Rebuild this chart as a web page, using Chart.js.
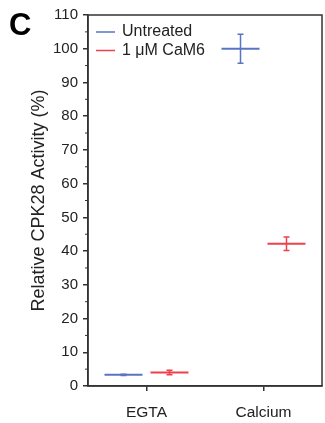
<!DOCTYPE html>
<html>
<head>
<meta charset="utf-8">
<script src="https://cdn.jsdelivr.net/npm/chart.js@4"></script>
<style>
  html, body { margin: 0; padding: 0; background: #fff; }
  #wrap { width: 325px; height: 423px; }
</style>
</head>
<body>
<div id="wrap"><canvas id="cpkChart" width="325" height="423"></canvas></div>
<script>
const categories = ['EGTA', 'Calcium'];
const seriesNames = ['Untreated', '1 \u03BCM CaM6'];
const untreated = [3.3, 100];
const untreatedErr = [0.2, 4.3];
const cam6 = [4.0, 42.2];
const cam6Err = [0.7, 2.0];
const yTicks = [0, 10, 20, 30, 40, 50, 60, 70, 80, 90, 100, 110];

const blue = '#5874c2';
const red = '#ef3f4c';
const axisColor = '#333';

// draws the mean line + error bars, the frame, minor ticks, legend and panel letter
const marksPlugin = {
    id: 'marks',
    afterDatasetsDraw(chart) {
        const ctx = chart.ctx;
        const y = chart.scales.y;
        const area = chart.chartArea;
        ctx.save();

        chart.data.datasets.forEach((ds, i) => {
            const meta = chart.getDatasetMeta(i);
            meta.data.forEach((bar, j) => {
                const v = ds.data[j];
                const e = ds.errors[j];
                const half = bar.width / 2;
                ctx.strokeStyle = ds.lineColor;
                ctx.lineWidth = 2;
                ctx.beginPath();
                ctx.moveTo(bar.x - half, bar.y);
                ctx.lineTo(bar.x + half, bar.y);
                ctx.stroke();
                const yTop = y.getPixelForValue(v + e);
                const yBot = y.getPixelForValue(v - e);
                ctx.lineWidth = 1.5;
                ctx.beginPath();
                ctx.moveTo(bar.x, yTop);
                ctx.lineTo(bar.x, yBot);
                ctx.moveTo(bar.x - 3, yTop);
                ctx.lineTo(bar.x + 3, yTop);
                ctx.moveTo(bar.x - 3, yBot);
                ctx.lineTo(bar.x + 3, yBot);
                ctx.stroke();
            });
        });

        // frame
        ctx.strokeStyle = axisColor;
        ctx.lineWidth = 1.5;
        ctx.strokeRect(area.left, area.top, area.right - area.left, area.bottom - area.top);

        // minor ticks
        ctx.lineWidth = 1;
        for (let k = 0; k < yTicks.length - 1; k++) {
            const py = y.getPixelForValue((yTicks[k] + yTicks[k + 1]) / 2);
            ctx.beginPath();
            ctx.moveTo(area.left - 3, py);
            ctx.lineTo(area.left, py);
            ctx.stroke();
        }

        // legend
        ctx.font = '16px "Liberation Sans", Arial, sans-serif';
        ctx.textBaseline = 'middle';
        ctx.fillStyle = '#222';
        chart.data.datasets.forEach((ds, i) => {
            const ly = 32 + i * 18.5;
            ctx.strokeStyle = ds.lineColor;
            ctx.lineWidth = 1.5;
            ctx.beginPath();
            ctx.moveTo(96, ly);
            ctx.lineTo(115, ly);
            ctx.stroke();
            ctx.fillText(ds.label, 122, ly);
        });

        // panel letter
        ctx.font = 'bold 31px "Liberation Sans", Arial, sans-serif';
        ctx.textBaseline = 'alphabetic';
        ctx.fillStyle = '#000';
        ctx.fillText('C', 9, 35);
        ctx.restore();
    }
};

const ctx = document.getElementById('cpkChart').getContext('2d');
new Chart(ctx, {
    type: 'bar',
    data: {
        labels: categories,
        datasets: [
            {
                label: seriesNames[0],
                data: untreated,
                errors: untreatedErr,
                lineColor: blue,
                backgroundColor: 'rgba(0,0,0,0)',
                borderWidth: 0
            },
            {
                label: seriesNames[1],
                data: cam6,
                errors: cam6Err,
                lineColor: red,
                backgroundColor: 'rgba(0,0,0,0)',
                borderWidth: 0
            }
        ]
    },
    options: {
        responsive: false,
        animation: false,
        categoryPercentage: 0.786,
        barPercentage: 0.826,
        layout: { padding: { top: 15, right: 3, bottom: 0, left: 0 } },
        plugins: {
            legend: { display: false },
            tooltip: { enabled: false }
        },
        scales: {
            x: {
                offset: true,
                grid: {
                    offset: false,
                    drawOnChartArea: false,
                    tickLength: 5,
                    color: axisColor,
                    lineWidth: 1.5
                },
                border: { display: true, color: axisColor, width: 1.5 },
                ticks: {
                    color: '#222',
                    padding: 12,
                    font: { family: '"Liberation Sans", Arial, sans-serif', size: 15.5 }
                },
                afterFit(scale) { scale.height = 37; }
            },
            y: {
                min: 0,
                max: 110,
                afterBuildTicks(scale) {
                    scale.ticks = yTicks.map(v => ({ value: v }));
                },
                grid: {
                    drawOnChartArea: false,
                    tickLength: 5,
                    color: axisColor,
                    lineWidth: 1.5
                },
                border: { display: true, color: axisColor, width: 1.5 },
                ticks: {
                    color: '#222',
                    padding: 5,
                    font: { family: '"Liberation Sans", Arial, sans-serif', size: 15 }
                },
                title: {
                    display: true,
                    text: 'Relative CPK28 Activity (%)',
                    color: '#222',
                    padding: { top: 28, bottom: 0 },
                    font: { family: '"Liberation Sans", Arial, sans-serif', size: 18 }
                },
                afterFit(scale) { scale.width = 88; }
            }
        }
    },
    plugins: [marksPlugin]
});
</script>
</body>
</html>
